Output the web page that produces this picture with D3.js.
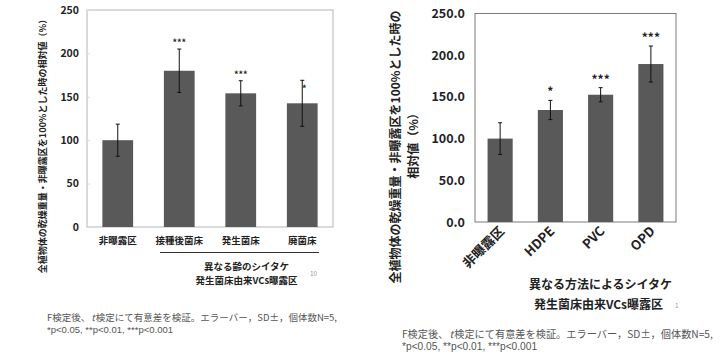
<!DOCTYPE html>
<html><head><meta charset="utf-8">
<script src="https://cdn.jsdelivr.net/npm/d3@7"></script>
<style>
body{margin:0;background:#fff;}
svg{display:block;}
text{font-family:"Noto Sans CJK JP","Noto Sans",sans-serif;}
</style></head>
<body>
<svg id="c" width="720" height="356"></svg>
<script>
// ---- data ----
const catsA = ["非曝露区","接種後菌床","発生菌床","廃菌床"];
const meansA = [100, 180, 154, 142.5];
const sdA = [18.5, 25, 14.5, 26.5];
const sigA = ["", "***", "***", "*"];
const ticksA = [0,50,100,150,200,250];

const catsB = ["非曝露区","HDPE","PVC","OPD"];
const meansB = [100, 134.3, 152.6, 189.4];
const sdB = [19, 11.5, 8.5, 21.6];
const sigB = ["", "*", "***", "***"];
const ticksB = [0,50,100,150,200,250];

const yTitle = "全植物体の乾燥重量・非曝露区を100%とした時の相対値（%）";
const yTitleB1 = "全植物体の乾燥重量・非曝露区を100%とした時の";
const yTitleB2 = "相対値（%）";
const groupTitleA = ["異なる齢のシイタケ","発生菌床由来VCs曝露区"];
const groupTitleB = ["異なる方法によるシイタケ","発生菌床由来VCs曝露区"];
const noteLines = ["F検定後、|t|検定にて有意差を検証。エラーバー，SD±，個体数N=5,","*p<0.05, **p<0.01, ***p<0.001"];

const svg = d3.select("#c");
const barColor = "#595959";

function drawNote(x, y, size, gap){
  const parts = noteLines[0].split("|");
  let cx = x;
  parts.forEach((p,i)=>{
    const t = svg.append("text").attr("x", cx).attr("y", y).attr("font-size", size).attr("fill", "#555")
      .attr("font-style", i===1 ? "italic" : "normal").text(p);
    cx += t.node().getComputedTextLength() + 1;
  });
  svg.append("text").attr("x", x).attr("y", y + gap).attr("font-size", size).attr("fill", "#555")
    .style("font-family", '"Liberation Sans", Arial, sans-serif').text(noteLines[1]);
}

// ---------- Chart A ----------
{
  const x = d3.scaleBand().domain(catsA).range([87,333]).paddingInner(0.5).paddingOuter(0.25);
  const y = d3.scaleLinear().domain([0,250]).range([227,10]);
  const g = svg.append("g");
  g.append("rect").attr("x",87).attr("y",10).attr("width",246).attr("height",217)
    .attr("fill","none").attr("stroke","#b5b5b5").attr("stroke-width",1);
  const ax = g.append("g").attr("transform","translate(87,0)")
    .call(d3.axisLeft(y).tickValues(ticksA).tickSize(3).tickPadding(5).tickFormat(d3.format("d")));
  ax.select(".domain").remove();
  ax.selectAll(".tick line").attr("stroke","#ddd").attr("x2",3);
  ax.selectAll("text").attr("font-size",10.5).attr("font-weight","bold").attr("fill","#222");
  g.selectAll(".bar").data(meansA).join("rect")
    .attr("x",(d,i)=>x(catsA[i])).attr("width",x.bandwidth())
    .attr("y",d=>y(d)).attr("height",d=>y(0)-y(d)).attr("fill",barColor);
  meansA.forEach((m,i)=>{
    const cx = x(catsA[i]) + x.bandwidth()/2;
    g.append("line").attr("x1",cx).attr("x2",cx).attr("y1",y(m+sdA[i])).attr("y2",y(m-sdA[i])).attr("stroke","#111").attr("stroke-width",1);
    [m+sdA[i], m-sdA[i]].forEach(v=>g.append("line").attr("x1",cx-2).attr("x2",cx+2).attr("y1",y(v)).attr("y2",y(v)).attr("stroke","#111"));
    if(sigA[i]) g.append("text").attr("x", cx + (sigA[i]==="*"?2:0)).attr("y", y(m+sdA[i]) - (sigA[i]==="*"? -12: 3))
      .attr("text-anchor","middle").attr("font-size",9).attr("font-weight","bold").attr("fill","#222").text(sigA[i]);
  });
  catsA.forEach(c=>{
    g.append("text").attr("x",x(c)+x.bandwidth()/2).attr("y",244).attr("text-anchor","middle")
      .attr("font-size",9.5).attr("font-weight","bold").attr("fill","#222").text(c);
  });
  g.append("line").attr("x1",160).attr("x2",319).attr("y1",252.5).attr("y2",252.5).attr("stroke","#333").attr("stroke-width",1);
  g.append("text").attr("x",246.5).attr("y",270).attr("text-anchor","middle").attr("font-size",9.5).attr("font-weight","bold").attr("fill","#222").text(groupTitleA[0]);
  g.append("text").attr("x",246.5).attr("y",284).attr("text-anchor","middle").attr("font-size",9.5).attr("font-weight","bold").attr("fill","#222").text(groupTitleA[1]);
  g.append("text").attr("x",310).attr("y",276).attr("font-size",6.5).attr("fill","#999").text("10");
  g.append("text").attr("transform","translate(46,144) rotate(-90)").attr("text-anchor","middle")
    .attr("font-size",9).attr("font-weight","bold").attr("fill","#222").text(yTitle);
  drawNote(47, 320.5, 9.5, 12);
}

// ---------- Chart B ----------
{
  const x = d3.scaleBand().domain(catsB).range([475,676]).paddingInner(0.5).paddingOuter(0.25);
  const y = d3.scaleLinear().domain([0,250]).range([222,13.5]);
  const g = svg.append("g");
  g.append("rect").attr("x",475).attr("y",13.5).attr("width",201).attr("height",208.5)
    .attr("fill","none").attr("stroke","#7a7a7a").attr("stroke-width",1);
  const ax = g.append("g").attr("transform","translate(475,0)")
    .call(d3.axisLeft(y).tickValues(ticksB).tickSize(0).tickPadding(10).tickFormat(d3.format(".1f")));
  ax.select(".domain").remove();
  ax.selectAll("text").attr("font-size",12.5).attr("font-weight","bold").attr("fill","#222");
  g.selectAll(".bar").data(meansB).join("rect")
    .attr("x",(d,i)=>x(catsB[i])).attr("width",x.bandwidth())
    .attr("y",d=>y(d)).attr("height",d=>y(0)-y(d)).attr("fill",barColor);
  meansB.forEach((m,i)=>{
    const cx = x(catsB[i]) + x.bandwidth()/2;
    g.append("line").attr("x1",cx).attr("x2",cx).attr("y1",y(m+sdB[i])).attr("y2",y(m-sdB[i])).attr("stroke","#111").attr("stroke-width",1);
    [m+sdB[i], m-sdB[i]].forEach(v=>g.append("line").attr("x1",cx-2).attr("x2",cx+2).attr("y1",y(v)).attr("y2",y(v)).attr("stroke","#111"));
    if(sigB[i]) g.append("text").attr("x",cx).attr("y",y(m+sdB[i]) - 4)
      .attr("text-anchor","middle").attr("font-size",12).attr("font-weight","bold").attr("fill","#222").text(sigB[i]);
  });
  catsB.forEach(c=>{
    const cx = x(c)+x.bandwidth()/2;
    g.append("text").attr("transform",`translate(${cx+5},${232}) rotate(-45)`).attr("text-anchor","end")
      .attr("font-size",13).attr("font-weight","bold").attr("fill","#222").text(c);
  });
  g.append("text").attr("x",600.5).attr("y",289).attr("text-anchor","middle").attr("font-size",12).attr("font-weight","bold").attr("fill","#222").text(groupTitleB[0]);
  g.append("text").attr("x",598.5).attr("y",309).attr("text-anchor","middle").attr("font-size",12).attr("font-weight","bold").attr("fill","#222").text(groupTitleB[1]);
  g.append("text").attr("x",675).attr("y",308).attr("font-size",6.5).attr("fill","#999").text("1");
  g.append("text").attr("transform","translate(400,147) rotate(-90)").attr("text-anchor","middle")
    .attr("font-size",12).attr("font-weight","bold").attr("fill","#222").text(yTitleB1);
  g.append("text").attr("transform","translate(418,143) rotate(-90)").attr("text-anchor","middle")
    .attr("font-size",12).attr("font-weight","bold").attr("fill","#222").text(yTitleB2);
  drawNote(402, 337.5, 10.2, 12.8);
}
</script>
</body></html>
